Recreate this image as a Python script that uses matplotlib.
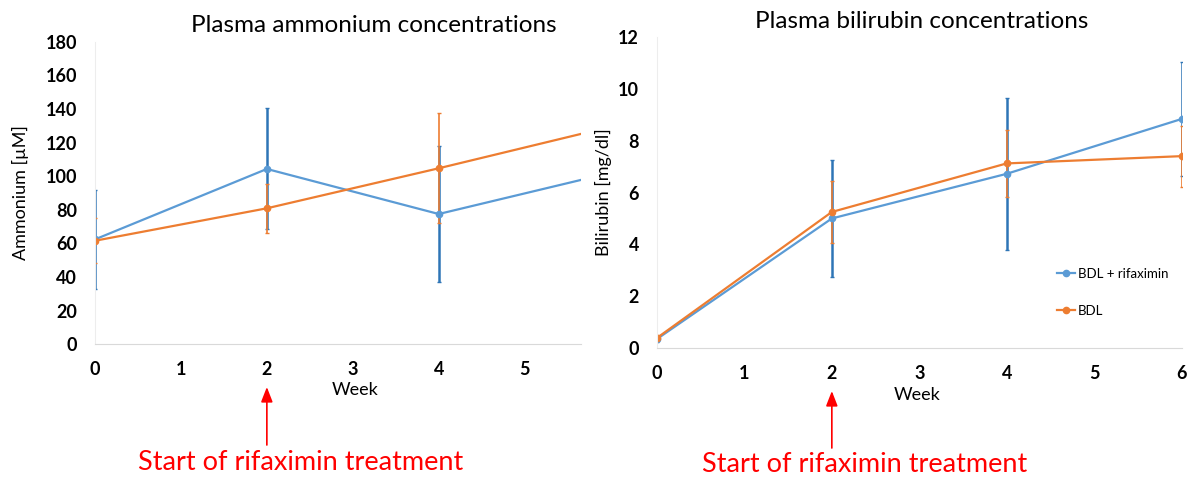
import numpy as np
import matplotlib.pyplot as plt

plt.rcParams['font.family'] = ['Lato', 'DejaVu Sans']

weeks = [0, 2, 4, 6]

# ammonium (uM)
amm_rif = [62.4, 104.3, 77.5, 102.0]
amm_rif_err = [29.5, 36.0, 40.7, 0.0]
amm_bdl = [61.6, 80.9, 104.7, 129.4]
amm_bdl_err = [13.5, 14.7, 32.6, 0.0]

# bilirubin (mg/dl)
bil_rif = [0.36, 5.0, 6.72, 8.83]
bil_rif_err = [0.1, 2.25, 2.92, 2.2]
bil_bdl = [0.4, 5.25, 7.12, 7.4]
bil_bdl_err = [0.1, 1.2, 1.28, 1.18]

blue = '#5B9BD5'
blue_dark = '#2E75B6'
orange = '#ED7D31'
red = '#FF0000'

fig = plt.figure(figsize=(11.96, 4.79), dpi=100)
W, H = 1196, 479

def axes_px(x0, y0, x1, y1):
    return fig.add_axes([x0 / W, 1 - y1 / H, (x1 - x0) / W, (y1 - y0) / H])

ax1 = axes_px(95, 41.7, 580.5, 344.3)
ax2 = axes_px(657, 36.7, 1181.5, 348.3)

def style(ax):
    for s in ['top', 'right']:
        ax.spines[s].set_visible(False)
    ax.spines['bottom'].set_color('#D9D9D9')
    ax.spines['left'].set_color('#EDEDED')
    ax.tick_params(length=0, labelsize=13)
    ax.tick_params(axis='y', pad=13)
    ax.tick_params(axis='x', pad=12)
    for lab in ax.get_xticklabels() + ax.get_yticklabels():
        lab.set_fontweight('bold')

# left panel
ax1.errorbar(weeks, amm_rif, yerr=amm_rif_err, color=blue, ecolor=blue_dark,
             elinewidth=1.8, capsize=1.5, marker='o', ms=4.5, lw=1.6)
ax1.errorbar(weeks, amm_bdl, yerr=amm_bdl_err, color=orange, ecolor=orange,
             elinewidth=1.2, capsize=1.5, marker='o', ms=4.5, lw=1.6)
ax1.set_xlim(0, 5.65)
ax1.set_ylim(0, 180)
ax1.set_yticks(np.arange(0, 181, 20))
ax1.set_xticks([0, 1, 2, 3, 4, 5])
style(ax1)
ax1.set_ylabel('Ammonium [µM]', fontsize=13)
ax1.yaxis.set_label_coords(-0.136, 0.5)

# right panel
ax2.errorbar(weeks, bil_rif, yerr=bil_rif_err, color=blue, ecolor=blue_dark,
             elinewidth=1.8, capsize=1.5, marker='o', ms=4.5, lw=1.6,
             label='BDL + rifaximin')
ax2.errorbar(weeks, bil_bdl, yerr=bil_bdl_err, color=orange, ecolor=orange,
             elinewidth=1.2, capsize=1.5, marker='o', ms=4.5, lw=1.6,
             label='BDL')
ax2.set_xlim(0, 6)
ax2.set_ylim(0, 12)
ax2.set_yticks(np.arange(0, 13, 2))
ax2.set_xticks(range(0, 7))
style(ax2)
ax2.set_ylabel('Bilirubin [mg/dl]', fontsize=13)
ax2.yaxis.set_label_coords(-0.085, 0.5)

handles, labels = ax2.get_legend_handles_labels()
handles = [h[0] for h in handles]
ax2.legend(handles, labels, loc='center left', bbox_to_anchor=(0.74, 0.18),
           frameon=False, fontsize=9.5, handlelength=1.4, handletextpad=0.2,
           labelspacing=1.9)

# titles and x labels
fig.text(374 / W, 1 - 25 / H, 'Plasma ammonium concentrations',
         ha='center', va='center', fontsize=17.5)
fig.text(922 / W, 1 - 22 / H, 'Plasma bilirubin concentrations',
         ha='center', va='center', fontsize=17.5)
fig.text(355 / W, 1 - 390 / H, 'Week', ha='center', va='center', fontsize=13)
fig.text(917 / W, 1 - 395 / H, 'Week', ha='center', va='center', fontsize=13)

# rifaximin start arrows
for ax, y_tail, y_head, tx, ty in [(ax1, 445, 387, 301, 462),
                                   (ax2, 448, 391, 865, 465)]:
    ax.annotate('', xy=(2, H - y_head), xycoords=('data', 'figure pixels'),
                xytext=(2, H - y_tail), textcoords=('data', 'figure pixels'),
                arrowprops=dict(arrowstyle='-|>,head_length=0.9,head_width=0.35',
                                color=red, lw=1.2, shrinkA=0, shrinkB=0),
                annotation_clip=False)
    fig.text(tx / W, 1 - ty / H, 'Start of rifaximin treatment', color=red,
             ha='center', va='center', fontsize=19.5)

fig.savefig('out.png', dpi=100)
